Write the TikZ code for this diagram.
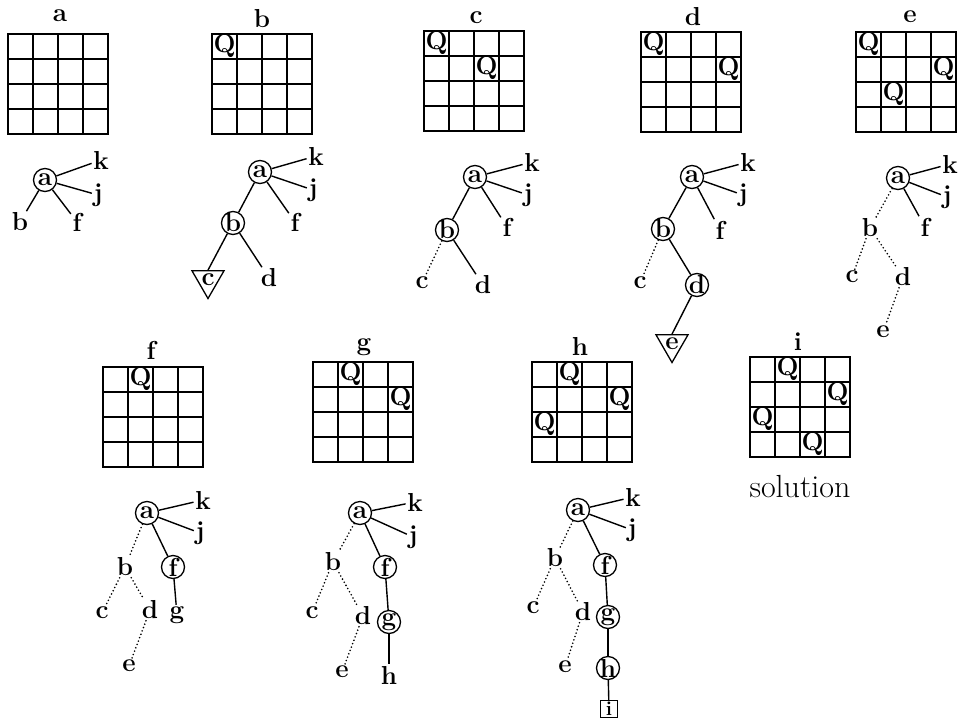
\documentclass[tikz,border=0pt]{standalone}
\usepackage{fontspec}
\usetikzlibrary{shapes.geometric}
\newcommand{\qboard}[2]{% x, y
  \begin{scope}[shift={(#1,#2)}]
    \draw[gridline] (0,0) rectangle (100,100);
    \foreach \k in {1,2,3} {
      \draw[gridline] (\k*25,0) -- (\k*25,100);
      \draw[gridline] (0,\k*25) -- (100,\k*25);
    }
  \end{scope}}
\newcommand{\queen}[4]{% x, y, row, col
  \node[queen] at ({#1+#4*25+12.5},{#2+#3*25+12}) {Q};}
\begin{document}
\begin{tikzpicture}[x=1pt,y=-1pt,
  txt/.style={font=\fontsize{26}{28}\selectfont\bfseries},
  gridline/.style={line width=2pt},
  queen/.style={txt,inner sep=0pt},
  lbl/.style={txt,inner sep=1.5pt},
  circ/.style={txt,circle,draw,line width=1.3pt,inner sep=-5pt,minimum size=23pt},
  tri/.style={txt,regular polygon,regular polygon sides=3,shape border rotate=180,draw,line width=1.3pt,inner sep=-6pt,minimum size=37pt},
  boxnode/.style={font=\fontsize{20}{22}\selectfont\bfseries,rectangle,draw,line width=1.3pt,inner sep=0pt,minimum size=17pt},
  solidedge/.style={line width=1.4pt},
  dotedge/.style={line width=1.8pt,line cap=round,dash pattern=on 0pt off 3.6pt}
]
\useasboundingbox (0,0) rectangle (959,721);

% ---------- boards ----------
\qboard{8}{34}
\node[lbl] (La) at (60,16) {a};

\qboard{212}{34}
\node[lbl] (Lb) at (262,19) {b};
\queen{212}{34}{0}{0}

\qboard{424}{31}
\node[lbl] (Lc) at (476,18) {c};
\queen{424}{31}{0}{0}
\queen{424}{31}{1}{2}

\qboard{641}{32}
\node[lbl] (Ld) at (693,17) {d};
\queen{641}{32}{0}{0}
\queen{641}{32}{1}{3}

\qboard{856}{32}
\node[lbl] (Le) at (910,17) {e};
\queen{856}{32}{0}{0}
\queen{856}{32}{1}{3}
\queen{856}{32}{2}{1}

\qboard{103}{367}
\node[lbl] (Lf) at (151,350) {f};
\queen{103}{367}{0}{1}

\qboard{313}{362}
\node[lbl] (Lg) at (364,347) {g};
\queen{313}{362}{0}{1}
\queen{313}{362}{1}{3}

\qboard{532}{362}
\node[lbl] (Lh) at (580,346) {h};
\queen{532}{362}{0}{1}
\queen{532}{362}{1}{3}
\queen{532}{362}{2}{0}

\qboard{750}{357}
\node[lbl] (Li) at (798,342) {i};
\queen{750}{357}{0}{1}
\queen{750}{357}{1}{3}
\queen{750}{357}{2}{0}
\queen{750}{357}{3}{2}
\node[font=\fontsize{32}{34}\selectfont] (sol) at (800,487) {solution};

% ---------- tree a ----------
\node[circ] (Aa) at (45,180) {a};
\node[lbl] (Ak) at (101,160) {k};
\node[lbl] (Aj) at (98,195) {j};
\node[lbl] (Af) at (77,222) {f};
\node[lbl] (Ab) at (20,222) {b};
\draw[solidedge] (Aa) -- (Ak);
\draw[solidedge] (Aa) -- (Aj);
\draw[solidedge] (Aa) -- (Af);
\draw[solidedge] (Aa) -- (Ab);

% ---------- tree b ----------
\node[circ] (Ba) at (260,172) {a};
\node[lbl] (Bk) at (316,156) {k};
\node[lbl] (Bj) at (313,190) {j};
\node[lbl] (Bf) at (295,222) {f};
\node[circ] (Bb) at (233,223) {b};
\node[lbl] (Bd) at (269,278) {d};
\node[tri] (Bc) at (208,280) {c};
\draw[solidedge] (Ba) -- (Bk);
\draw[solidedge] (Ba) -- (Bj);
\draw[solidedge] (Ba) -- (Bf);
\draw[solidedge] (Ba) -- (Bb);
\draw[solidedge] (Bb) -- (Bd);
\draw[solidedge] (Bb) -- (Bc.north);

% ---------- tree c ----------
\node[circ] (Ca) at (475,177) {a};
\node[lbl] (Ck) at (532,162) {k};
\node[lbl] (Cj) at (528,195) {j};
\node[lbl] (Cf) at (507,227) {f};
\node[circ] (Cb) at (447,230) {b};
\node[lbl] (Cc) at (422,283) {c};
\node[lbl] (Cd) at (483,285) {d};
\draw[solidedge] (Ca) -- (Ck);
\draw[solidedge] (Ca) -- (Cj);
\draw[solidedge] (Ca) -- (Cf);
\draw[solidedge] (Ca) -- (Cb);
\draw[dotedge] (Cb) -- (Cc);
\draw[solidedge] (Cb) -- (Cd);

% ---------- tree d ----------
\node[circ] (Da) at (692,177) {a};
\node[lbl] (Dk) at (748,162) {k};
\node[lbl] (Dj) at (743,195) {j};
\node[lbl] (Df) at (720,230) {f};
\node[circ] (Db) at (663,229) {b};
\node[lbl] (Dc) at (640,283) {c};
\node[circ] (Dd) at (697,285) {d};
\node[tri] (De) at (672,344) {e};
\draw[solidedge] (Da) -- (Dk);
\draw[solidedge] (Da) -- (Dj);
\draw[solidedge] (Da) -- (Df);
\draw[solidedge] (Da) -- (Db);
\draw[dotedge] (Db) -- (Dc);
\draw[solidedge] (Db) -- (Dd);
\draw[solidedge] (Dd) -- (De.north);

% ---------- tree e ----------
\node[circ] (Ea) at (898,178) {a};
\node[lbl] (Ek) at (950,164) {k};
\node[lbl] (Ej) at (947,197) {j};
\node[lbl] (Ef) at (925,227) {f};
\node[lbl] (Eb) at (870,228) {b};
\node[lbl] (Ec) at (852,277) {c};
\node[lbl] (Ed) at (903,277) {d};
\node[lbl] (Ee) at (883,332) {e};
\draw[solidedge] (Ea) -- (Ek);
\draw[solidedge] (Ea) -- (Ej);
\draw[solidedge] (Ea) -- (Ef);
\draw[dotedge] (Ea) -- (Eb);
\draw[dotedge] (Eb) -- (Ec);
\draw[dotedge] (Eb) -- (Ed);
\draw[dotedge] (Ed) -- (Ee);

% ---------- tree f ----------
\node[circ] (Fa) at (147,513) {a};
\node[lbl] (Fk) at (203,500) {k};
\node[lbl] (Fj) at (200,533) {j};
\node[circ] (Ff) at (173,567) {f};
\node[lbl] (Fg) at (177,615) {g};
\node[lbl] (Fb) at (125,567) {b};
\node[lbl] (Fc) at (102,613) {c};
\node[lbl] (Fd) at (150,610) {d};
\node[lbl] (Fe) at (129,666) {e};
\draw[solidedge] (Fa) -- (Fk);
\draw[solidedge] (Fa) -- (Fj);
\draw[solidedge] (Fa) -- (Ff);
\draw[solidedge] (Ff) -- (Fg);
\draw[dotedge] (Fa) -- (Fb);
\draw[dotedge] (Fb) -- (Fc);
\draw[dotedge] (Fb) -- (Fd);
\draw[dotedge] (Fd) -- (Fe);

% ---------- tree g ----------
\node[circ] (Ga) at (360,513) {a};
\node[lbl] (Gk) at (415,502) {k};
\node[lbl] (Gj) at (413,537) {j};
\node[circ] (Gf) at (385,567) {f};
\node[lbl] (Gb) at (333,562) {b};
\node[lbl] (Gc) at (312,613) {c};
\node[lbl] (Gd) at (363,616) {d};
\node[circ] (Gg) at (389,622) {g};
\node[lbl] (Ge) at (342,672) {e};
\node[lbl] (Gh) at (389,675) {h};
\draw[solidedge] (Ga) -- (Gk);
\draw[solidedge] (Ga) -- (Gj);
\draw[solidedge] (Ga) -- (Gf);
\draw[solidedge] (Gf) -- (Gg);
\draw[solidedge] (Gg) -- (Gh);
\draw[dotedge] (Ga) -- (Gb);
\draw[dotedge] (Gb) -- (Gc);
\draw[dotedge] (Gb) -- (Gd);
\draw[dotedge] (Gd) -- (Ge);

% ---------- tree h ----------
\node[circ] (Ha) at (578,510) {a};
\node[lbl] (Hk) at (633,497) {k};
\node[lbl] (Hj) at (632,530) {j};
\node[circ] (Hf) at (605,565) {f};
\node[lbl] (Hb) at (555,558) {b};
\node[lbl] (Hc) at (533,608) {c};
\node[lbl] (Hd) at (583,612) {d};
\node[circ] (Hg) at (608,617) {g};
\node[lbl] (He) at (565,667) {e};
\node[circ] (Hh) at (608,668) {h};
\node[boxnode] (Hi) at (609,709) {i};
\draw[solidedge] (Ha) -- (Hk);
\draw[solidedge] (Ha) -- (Hj);
\draw[solidedge] (Ha) -- (Hf);
\draw[solidedge] (Hf) -- (Hg);
\draw[solidedge] (Hg) -- (Hh);
\draw[solidedge] (Hh) -- (Hi);
\draw[dotedge] (Ha) -- (Hb);
\draw[dotedge] (Hb) -- (Hc);
\draw[dotedge] (Hb) -- (Hd);
\draw[dotedge] (Hd) -- (He);
\end{tikzpicture}
\end{document}
